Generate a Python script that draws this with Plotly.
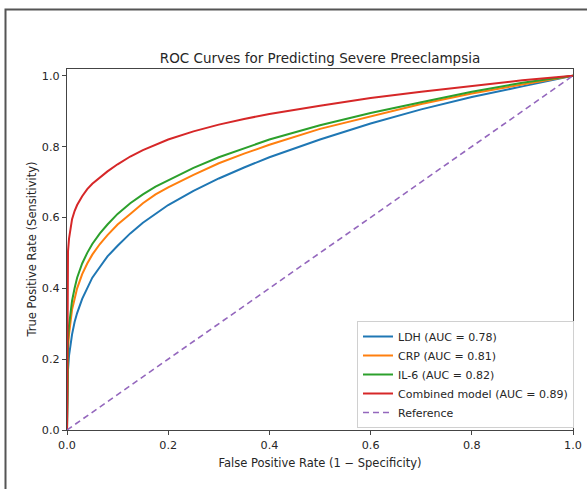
import plotly.graph_objects as go

# False positive rate grid
fpr = [0, 0.0005, 0.001, 0.002, 0.004, 0.007, 0.01, 0.015, 0.02, 0.03, 0.04,
       0.05, 0.065, 0.08, 0.1, 0.125, 0.15, 0.175, 0.2, 0.25, 0.3, 0.35, 0.4,
       0.5, 0.6, 0.7, 0.8, 0.9, 1.0]

tpr_ldh = [0, 0.12, 0.14, 0.17, 0.21, 0.245, 0.27, 0.305, 0.33, 0.37, 0.40,
           0.43, 0.46, 0.49, 0.52, 0.555, 0.585, 0.61, 0.635, 0.675, 0.71, 0.741, 0.77,
           0.82, 0.865, 0.905, 0.94, 0.97, 1.0]
tpr_crp = [0, 0.17, 0.20, 0.23, 0.27, 0.31, 0.34, 0.37, 0.40, 0.44, 0.47,
           0.495, 0.525, 0.55, 0.58, 0.61, 0.64, 0.665, 0.685, 0.72, 0.753, 0.78, 0.805,
           0.85, 0.885, 0.92, 0.95, 0.975, 1.0]
tpr_il6 = [0, 0.19, 0.22, 0.255, 0.295, 0.335, 0.365, 0.40, 0.43, 0.47, 0.50,
           0.525, 0.555, 0.58, 0.61, 0.64, 0.665, 0.687, 0.705, 0.74, 0.77, 0.796, 0.82,
           0.86, 0.895, 0.925, 0.955, 0.98, 1.0]
tpr_comb = [0, 0.45, 0.475, 0.505, 0.54, 0.572, 0.595, 0.618, 0.635, 0.66, 0.68,
            0.695, 0.713, 0.73, 0.75, 0.772, 0.79, 0.806, 0.82, 0.843, 0.862, 0.878, 0.892,
            0.915, 0.937, 0.955, 0.972, 0.987, 1.0]

ref_x = [0, 1]
ref_y = [0, 1]

names = ["LDH (AUC = 0.78)", "CRP (AUC = 0.81)", "IL-6 (AUC = 0.82)",
         "Combined model (AUC = 0.89)"]
colors = ["#1f77b4", "#ff7f0e", "#2ca02c", "#d62728"]
series = [tpr_ldh, tpr_crp, tpr_il6, tpr_comb]

ticks = [0, 0.2, 0.4, 0.6, 0.8, 1.0]
tick_text = ["0.0", "0.2", "0.4", "0.6", "0.8", "1.0"]

FONT = "DejaVu Sans"
TXT = "#262626"

fig = go.Figure()
for name, col, ys in zip(names, colors, series):
    fig.add_trace(go.Scatter(x=fpr, y=ys, mode="lines", name=name,
                             line=dict(color=col, width=2)))
fig.add_trace(go.Scatter(x=ref_x, y=ref_y, mode="lines", name="Reference",
                         line=dict(color="#9467bd", width=1.6, dash="6px,4px")))

W, H = 587, 489
L, R, T, B = 67, 14, 69, 59
pw, ph = W - L - R, H - T - B

def px2paper_x(px):
    return (px - L) / pw

def px2paper_y(py):
    return (H - B - py) / ph

fig.update_layout(
    width=W, height=H,
    margin=dict(l=L, r=R, t=T, b=B, pad=0),
    paper_bgcolor="white", plot_bgcolor="white",
    font=dict(family=FONT, size=11.2, color=TXT),
    title=dict(text="ROC Curves for Predicting Severe Preeclampsia",
               x=(L + pw / 2) / W, xanchor="center",
               y=1 - 58 / H, yanchor="middle",
               font=dict(family=FONT, size=13.5, color=TXT)),
    showlegend=True,
    legend=dict(x=px2paper_x(574), xanchor="right", y=px2paper_y(428), yanchor="bottom",
                bgcolor="white", bordercolor="#d0d0d0", borderwidth=1,
                font=dict(family=FONT, size=11, color=TXT),
                tracegroupgap=0, itemwidth=30),
    xaxis=dict(range=[0, 1], tickvals=ticks, ticktext=tick_text,
               showgrid=False, zeroline=False, showline=True, mirror=True,
               linecolor="#444444", linewidth=1.2, ticks="outside", ticklen=4,
               tickcolor="#444444", tickwidth=1.2,
               tickfont=dict(family=FONT, size=11.2, color=TXT),
               title=dict(text="False Positive Rate (1 \u2212 Specificity)", standoff=8,
                          font=dict(family=FONT, size=11.5, color=TXT)),
               automargin=False),
    yaxis=dict(range=[0, 1.019], tickvals=ticks, ticktext=tick_text,
               showgrid=False, zeroline=False, showline=True, mirror=True,
               linecolor="#444444", linewidth=1.2, ticks="outside", ticklen=4,
               tickcolor="#444444", tickwidth=1.2,
               tickfont=dict(family=FONT, size=11.2, color=TXT),
               automargin=False),
    annotations=[dict(text="True Positive Rate (Sensitivity)", textangle=-90,
                      xref="paper", yref="paper", x=px2paper_x(31), y=0.5,
                      xanchor="center", yanchor="middle", showarrow=False,
                      font=dict(family=FONT, size=11.5, color=TXT))],
    shapes=[dict(type="rect", xref="paper", yref="paper",
                 x0=px2paper_x(5.5), x1=px2paper_x(620),
                 y0=px2paper_y(520), y1=px2paper_y(9.5),
                 line=dict(color="#555555", width=2), fillcolor="rgba(0,0,0,0)",
                 layer="below")],
)

fig.write_html("out.html", config={"displayModeBar": False},
               post_script="document.body.style.margin='0';document.body.style.overflow='hidden';")
